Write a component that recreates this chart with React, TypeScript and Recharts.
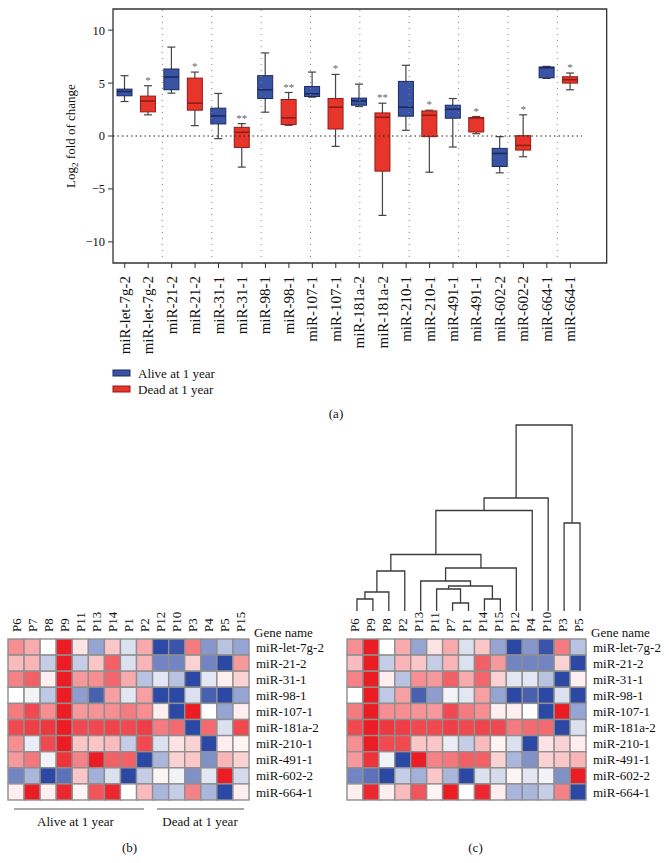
import React from 'react';
import {
  ComposedChart,
  Bar,
  XAxis,
  YAxis,
  ReferenceLine,
  ReferenceArea,
  ScatterChart,
  Scatter,
} from 'recharts';

const FONT = "'Liberation Serif', 'Times New Roman', serif";

// ---------- Panel (a) data ----------
const mirnas = [
  'miR-let-7g-2',
  'miR-21-2',
  'miR-31-1',
  'miR-98-1',
  'miR-107-1',
  'miR-181a-2',
  'miR-210-1',
  'miR-491-1',
  'miR-602-2',
  'miR-664-1',
];
// [min, q1, median, q3, max]
const aliveStats = [
  [3.26, 3.8, 4.2, 4.43, 5.7],
  [4.05, 4.37, 5.57, 6.33, 8.4],
  [-0.25, 1.14, 1.9, 2.63, 4.02],
  [2.25, 3.54, 4.37, 5.7, 7.85],
  [3.67, 3.73, 3.99, 4.68, 6.04],
  [2.78, 2.91, 3.32, 3.58, 4.9],
  [0.54, 1.87, 2.72, 5.16, 6.68],
  [-1.04, 1.68, 2.53, 2.91, 3.54],
  [-3.48, -2.88, -1.65, -1.17, -0.06],
  [5.44, 5.5, 6.45, 6.52, 6.58],
];
const deadStats = [
  [2.0, 2.28, 3.3, 3.77, 4.75],
  [0.98, 2.44, 3.1, 5.47, 6.04],
  [-2.94, -1.08, 0.35, 0.82, 1.17],
  [1.01, 1.08, 1.71, 3.45, 4.11],
  [-0.98, 0.66, 2.72, 3.54, 5.82],
  [-7.5, -3.32, 1.77, 2.18, 3.1],
  [-3.42, -0.06, 1.96, 2.37, 2.44],
  [0.22, 0.38, 1.71, 1.74, 1.84],
  [-1.96, -1.33, -0.89, 0.03, 2.0],
  [4.37, 5.0, 5.32, 5.6, 5.95],
];
const deadSig = ['*', '*', '**', '**', '*', '**', '*', '*', '*', '*'];
const yTicks = [-10, -5, 0, 5, 10];

// ---------- Panels (b), (c) data: expression by patient P1..P15 ----------
const patients = ['P1', 'P2', 'P3', 'P4', 'P5', 'P6', 'P7', 'P8', 'P9', 'P10', 'P11', 'P12', 'P13', 'P14', 'P15'];
const let7g2 = [-0.5, 1.5, 2.3, -1.7, -1, 2, 1.5, 0, 4, -2.8, 0.5, -3, -1.5, 1, -1.5];
const mir21 = [-0.5, 1.3, 0.8, -2, -3, 1.2, 1.3, -0.8, 4, -2, -0.8, -2, 1, 2.8, 1.8];
const mir31 = [1.5, -1, -3, -0.4, 0.3, 2.2, 2.8, 0.3, 4, -1, 1.8, -0.4, 2, 2.7, 0.8];
const mir98 = [-0.4, 1.7, -0.5, -2.6, -3, 0, -0.2, -0.9, 4, -3, -1.6, -3, -2.6, 1.7, -1.5];
const mir107 = [2.3, 2, 4, 0, -1.5, 2.3, 3.2, 2, 4, -3, 1.8, 0.3, 1.9, 2, 0.3];
const mir181a = [3.2, 3.4, -3, 2.6, -0.5, 3.2, 3.4, 3.5, 4, 2.6, 3.2, 2.3, 3.2, 3.3, 3.2];
const mir210 = [-0.8, 3.2, 0.8, -3, 0.3, 2, -0.3, 3.2, 4, 0.5, 1, -0.5, 1, 1.2, 0.2];
const mir491 = [2.8, -3, 1, -1.8, 1.3, 1.8, 2.4, -0.2, 3.6, 0.8, 2.2, -1.2, 4, 2.8, 0.8];
const mir602 = [-3, -0.8, -1.8, -0.4, 4, -2, -1.2, -3, -2.3, -0.2, 1, 0.2, -1.3, -0.5, -0.6];
const mir664 = [0, 1.2, 2.2, -1.2, -3, 0.3, 4, 0.3, 3.8, -0.8, 0.2, -1.2, 3, 3.8, 0.3];
const exprRows = [let7g2, mir21, mir31, mir98, mir107, mir181a, mir210, mir491, mir602, mir664];

const orderB = ['P6', 'P7', 'P8', 'P9', 'P11', 'P13', 'P14', 'P1', 'P2', 'P12', 'P10', 'P3', 'P4', 'P5', 'P15'];
const orderC = ['P6', 'P9', 'P8', 'P2', 'P13', 'P11', 'P7', 'P1', 'P14', 'P15', 'P12', 'P4', 'P10', 'P3', 'P5'];

const dendroMerges = [
  { id: 'D', a: 'P6', b: 'P9', h: 1.2 },
  { id: 'C', a: 'D', b: 'P8', h: 1.9 },
  { id: 'BL', a: 'C', b: 'P2', h: 4.0 },
  { id: 'J', a: 'P7', b: 'P1', h: 0.8 },
  { id: 'H', a: 'P11', b: 'J', h: 2.2 },
  { id: 'I', a: 'P14', b: 'P15', h: 1.2 },
  { id: 'G', a: 'H', b: 'I', h: 2.5 },
  { id: 'F', a: 'P13', b: 'G', h: 3.0 },
  { id: 'E', a: 'F', b: 'P12', h: 4.3 },
  { id: 'B', a: 'BL', b: 'E', h: 5.65 },
  { id: 'A', a: 'B', b: 'P4', h: 10.05 },
  { id: 'L', a: 'A', b: 'P10', h: 11.3 },
  { id: 'R', a: 'P3', b: 'P5', h: 8.8 },
  { id: 'root', a: 'L', b: 'R', h: 18.6 },
];

// ---------- helpers ----------
const BLUE_FILL = '#3954a5';
const BLUE_EDGE = '#1b2a5e';
const RED_FILL = '#e8352b';
const RED_EDGE = '#8e1d15';

const boxData = mirnas.flatMap((m, i) => [
  {
    key: `${m}|alive`,
    name: m,
    status: 'alive',
    min: aliveStats[i][0],
    q1: aliveStats[i][1],
    median: aliveStats[i][2],
    q3: aliveStats[i][3],
    max: aliveStats[i][4],
    sig: '',
  },
  {
    key: `${m}|dead`,
    name: m,
    status: 'dead',
    min: deadStats[i][0],
    q1: deadStats[i][1],
    median: deadStats[i][2],
    q3: deadStats[i][3],
    max: deadStats[i][4],
    sig: deadSig[i],
  },
]);
const boundaries = mirnas.slice(1).map((_, i) => (i + 1) * 2);

const mix = (a: number[], b: number[], t: number) =>
  `rgb(${a.map((v, k) => Math.round(v + (b[k] - v) * t)).join(',')})`;
const colorFor = (v: number) => {
  if (v >= 0) return mix([255, 255, 255], [236, 28, 36], Math.min(1, v / 4));
  return mix([255, 255, 255], [43, 72, 164], Math.min(1, -v / 3));
};

const BoxShape = (props: any) => {
  const { x, y, width, height, payload } = props;
  if (!payload) return <g />;
  const { min, q1, median, q3, max, status, sig } = payload;
  const top = Math.min(y, y + height);
  const h = Math.abs(height);
  const k = h / (max - min);
  const py = (v: number) => top + (max - v) * k;
  const cx = x + width / 2;
  const fill = status === 'alive' ? BLUE_FILL : RED_FILL;
  const edge = status === 'alive' ? BLUE_EDGE : RED_EDGE;
  const cap = 4;
  return (
    <g>
      <line x1={cx} x2={cx} y1={py(max)} y2={py(q3)} stroke="#444" strokeWidth={1.2} />
      <line x1={cx} x2={cx} y1={py(q1)} y2={py(min)} stroke="#444" strokeWidth={1.2} />
      <line x1={cx - cap} x2={cx + cap} y1={py(max)} y2={py(max)} stroke="#444" strokeWidth={1.2} />
      <line x1={cx - cap} x2={cx + cap} y1={py(min)} y2={py(min)} stroke="#444" strokeWidth={1.2} />
      <rect x={x} y={py(q3)} width={width} height={Math.max(1, py(q1) - py(q3))} fill={fill} stroke={edge} strokeWidth={1} />
      <line x1={x} x2={x + width} y1={py(median)} y2={py(median)} stroke={edge} strokeWidth={1.6} />
      {sig ? (
        <text x={cx} y={py(max) - 2} textAnchor="middle" fontSize={11} fontFamily={FONT} fill="#666">
          {sig}
        </text>
      ) : null}
    </g>
  );
};

const BoxTick = (props: any) => {
  const { x, y, payload } = props;
  const name = String(payload.value).split('|')[0];
  const bx = x + 5;
  const by = y + 6;
  return (
    <text x={bx} y={by} transform={`rotate(-90 ${bx} ${by})`} textAnchor="end" fontSize={15} fontFamily={FONT} fill="#111">
      {name}
    </text>
  );
};

const YLabel = (props: any) => {
  const vb = props.viewBox || { x: 53, y: 9, width: 60, height: 254 };
  const x = vb.x + 22;
  const y = vb.y + vb.height / 2;
  return (
    <text x={x} y={y} transform={`rotate(-90 ${x} ${y})`} textAnchor="middle" fontSize={13} fontFamily={FONT} fill="#111">
      Log
      <tspan dy={3} fontSize={9}>2</tspan>
      <tspan dy={-3}> fold of change</tspan>
    </text>
  );
};

const BoxPlot = () => (
  <ComposedChart width={669} height={365} data={boxData} margin={{ top: 9, right: 87, bottom: 0, left: 53 }}>
    <XAxis
      dataKey="key"
      type="category"
      height={102}
      interval={0}
      tick={<BoxTick />}
      tickSize={5}
      tickMargin={2}
      axisLine={false}
      tickLine={{ stroke: '#333' }}
    />
    <XAxis xAxisId="n" type="number" domain={[0, 20]} hide allowDataOverflow />
    <YAxis
      type="number"
      domain={[-12, 12]}
      ticks={yTicks}
      width={60}
      tickSize={5}
      tickMargin={3}
      axisLine={false}
      tickLine={{ stroke: '#333' }}
      tick={{ fontSize: 12.5, fontFamily: FONT, fill: '#111' }}
      tickFormatter={(v: number) => (v < 0 ? `\u2212${Math.abs(v)}` : String(v))}
      label={<YLabel />}
    />
    {boundaries.map((b) => (
      <ReferenceLine key={b} xAxisId="n" x={b} stroke="#888" strokeDasharray="1 5" strokeWidth={1} />
    ))}
    <ReferenceLine y={0} stroke="#222" strokeDasharray="1.5 3" strokeWidth={1} />
    <ReferenceArea
      xAxisId="n"
      x1={0}
      x2={20}
      y1={-12}
      y2={12}
      fill="none"
      fillOpacity={0}
      stroke="#333"
      strokeWidth={1.3}
      ifOverflow="visible"
    />
    <Bar dataKey={(d: any) => [d.min, d.max]} barSize={15} shape={(p: any) => <BoxShape {...p} />} isAnimationActive={false} />
  </ComposedChart>
);

// ---------- Heatmap ----------
const colTicks = orderB.map((_, i) => i + 0.5);
const rowTicks = mirnas.map((_, i) => i + 0.5);

const Heatmap = ({ order, width, yAxisWidth }: { order: string[]; width: number; yAxisWidth: number }) => {
  const height = 205;
  const margin = { top: 0, left: 8, right: 0, bottom: 5 };
  const xh = 39;
  const plotW = width - margin.left - margin.right - yAxisWidth;
  const plotH = height - margin.top - margin.bottom - xh;
  const cw = plotW / order.length;
  const ch = plotH / mirnas.length;
  const cells = mirnas.flatMap((g, r) =>
    order.map((p, c) => ({ x: c + 0.5, y: r + 0.5, v: exprRows[r][patients.indexOf(p)], gene: g, patient: p }))
  );
  const ColTick = (props: any) => {
    const { x, y, payload } = props;
    const i = Math.round(payload.value - 0.5);
    const bx = x + 4.5;
    return (
      <text x={bx} y={y} transform={`rotate(-90 ${bx} ${y})`} textAnchor="start" fontSize={13} fontFamily={FONT} fill="#111">
        {order[i]}
      </text>
    );
  };
  const RowTick = (props: any) => {
    const { x, y, payload } = props;
    const i = Math.round(payload.value - 0.5);
    return (
      <text x={x} y={y} dy="0.35em" textAnchor="start" fontSize={13} fontFamily={FONT} fill="#111">
        {mirnas[i]}
      </text>
    );
  };
  const Cell = (props: any) => {
    const { cx, cy, payload } = props;
    return (
      <rect x={cx - cw / 2} y={cy - ch / 2} width={cw} height={ch} fill={colorFor(payload.v)} stroke="#8f8f8f" strokeWidth={1.4} />
    );
  };
  return (
    <ScatterChart width={width} height={height} margin={margin}>
      <XAxis
        dataKey="x"
        type="number"
        orientation="top"
        domain={[0, order.length]}
        ticks={colTicks}
        interval={0}
        height={xh}
        axisLine={false}
        tickLine={false}
        tickSize={0}
        tickMargin={7}
        tick={<ColTick />}
      />
      <YAxis
        dataKey="y"
        type="number"
        orientation="right"
        domain={[0, mirnas.length]}
        reversed
        ticks={rowTicks}
        interval={0}
        width={yAxisWidth}
        axisLine={false}
        tickLine={false}
        tickSize={0}
        tickMargin={7}
        tick={<RowTick />}
      />
      <Scatter data={cells} shape={(p: any) => <Cell {...p} />} isAnimationActive={false} />
    </ScatterChart>
  );
};

// ---------- Dendrogram ----------
const buildDendro = () => {
  const pos: Record<string, { x: number; h: number }> = {};
  orderC.forEach((p, i) => (pos[p] = { x: i + 0.5, h: 0 }));
  return dendroMerges.map((m) => {
    const a = pos[m.a];
    const b = pos[m.b];
    pos[m.id] = { x: (a.x + b.x) / 2, h: m.h };
    return {
      id: m.id,
      pts: [
        { x: a.x, y: a.h },
        { x: a.x, y: m.h },
        { x: b.x, y: m.h },
        { x: b.x, y: b.h },
      ],
    };
  });
};
const dendroLinks = buildDendro();

const Dendrogram = () => (
  <ScatterChart width={250} height={201} margin={{ top: 10, left: 8, right: 3, bottom: 5 }}>
    <XAxis dataKey="x" type="number" domain={[0, orderC.length]} hide />
    <YAxis dataKey="y" type="number" domain={[0, 18.6]} hide />
    {dendroLinks.map((l) => (
      <Scatter
        key={l.id}
        data={l.pts}
        line={{ stroke: '#3a3a3a', strokeWidth: 1.3 }}
        lineType="joint"
        shape={() => <g />}
        isAnimationActive={false}
      />
    ))}
  </ScatterChart>
);

export default function App() {
  return (
    <div style={{ position: 'absolute', left: 0, top: 0, width: 669, height: 863, background: '#fff', fontFamily: FONT }}>
      <div style={{ position: 'absolute', left: 0, top: 0 }}>
        <BoxPlot />
      </div>
      <div style={{ position: 'absolute', left: 0, top: 600 }}>
        <Heatmap order={orderB} width={340} yAxisWidth={91} />
      </div>
      <div style={{ position: 'absolute', left: 339, top: 600 }}>
        <Heatmap order={orderC} width={330} yAxisWidth={83} />
      </div>
      <div style={{ position: 'absolute', left: 341, top: 415 }}>
        <Dendrogram />
      </div>
      <svg style={{ position: 'absolute', left: 0, top: 0, pointerEvents: 'none' }} width={669} height={863}>
        <g fontFamily={FONT} fontSize={13} fill="#111">
          <rect x={113} y={370} width={17} height={6} fill={BLUE_FILL} stroke={BLUE_EDGE} strokeWidth={1} />
          <text x={138} y={377.5}>Alive at 1 year</text>
          <rect x={113} y={386} width={17} height={6} fill={RED_FILL} stroke={RED_EDGE} strokeWidth={1} />
          <text x={138} y={393.5}>Dead at 1 year</text>
          <text x={336} y={417.5} textAnchor="middle">(a)</text>
          <text x={254} y={637}>Gene name</text>
          <text x={591} y={637}>Gene name</text>
          <line x1={14} x2={144} y1={809} y2={809} stroke="#555" strokeWidth={1} />
          <line x1={157} x2={244} y1={809} y2={809} stroke="#555" strokeWidth={1} />
          <text x={75.5} y={826} textAnchor="middle">Alive at 1 year</text>
          <text x={200} y={826} textAnchor="middle">Dead at 1 year</text>
          <text x={129.5} y={852} textAnchor="middle">(b)</text>
          <text x={475.5} y={852} textAnchor="middle">(c)</text>
        </g>
      </svg>
    </div>
  );
}
